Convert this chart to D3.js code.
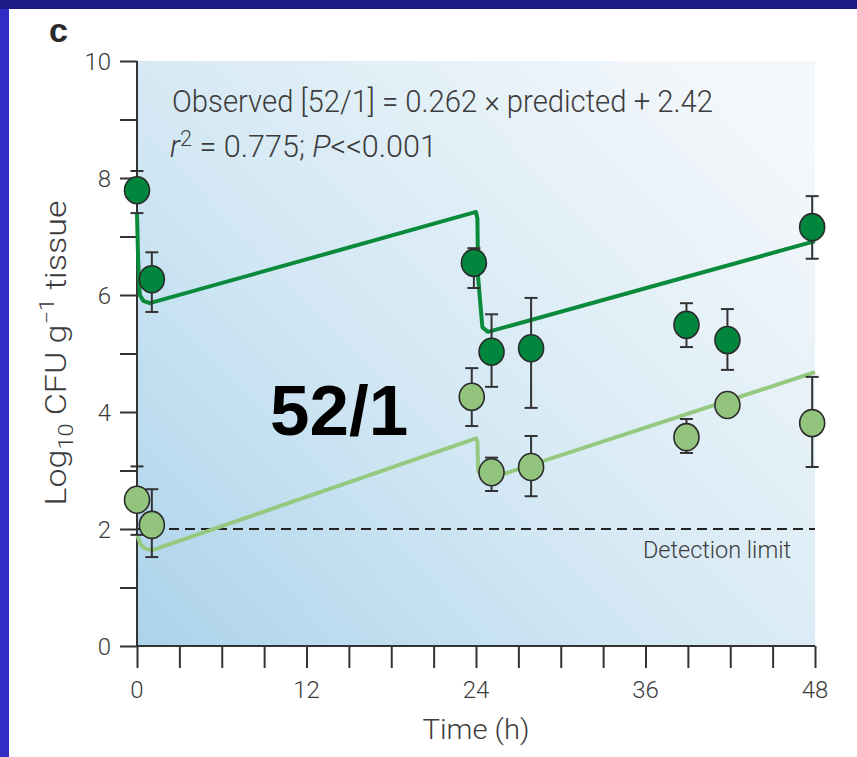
<!DOCTYPE html>
<html>
<head>
<meta charset="utf-8">
<script src="https://cdn.jsdelivr.net/npm/d3@7"></script>
<style>
  html, body { margin: 0; padding: 0; background: #ffffff; }
  svg { display: block; }
  .lbl { font-family: "Liberation Sans Narrow", "Arial Narrow", "Roboto", sans-serif; font-weight: 300; fill: #3c3c3c; }
</style>
</head>
<body>
<svg id="chart" width="857" height="757"></svg>
<script>
// Axis ticks
const xTickLabels = [0, 12, 24, 36, 48];
const xTickMarks = d3.range(0, 49, 3);
const yTickLabels = [0, 2, 4, 6, 8, 10];
const yTickMarks = d3.range(0, 11, 1);

// Observed tissue counts, high-exposure series (dark green)
const darkTime = [0, 1.05, 23.85, 25.1, 27.9, 38.9, 41.8, 47.8];
const darkValue = [7.79, 6.27, 6.55, 5.03, 5.09, 5.49, 5.23, 7.16];
const darkHigh = [8.12, 6.73, 6.80, 5.67, 5.95, 5.86, 5.76, 7.69];
const darkLow = [7.40, 5.71, 6.12, 4.43, 4.07, 5.11, 4.72, 6.62];

// Observed tissue counts, low-exposure series (light green)
const lightTime = [0, 1.05, 23.7, 25.1, 27.9, 38.9, 41.8, 47.8];
const lightValue = [2.50, 2.07, 4.26, 2.97, 3.06, 3.57, 4.12, 3.81];
const lightHigh = [3.07, 2.68, 4.75, 3.22, 3.59, 3.88, 4.22, 4.60];
const lightLow = [1.90, 1.52, 3.76, 2.65, 2.56, 3.30, 4.02, 3.06];

// Model predictions (time, log10 CFU)
const darkModelTime = [0, 0.08, 0.2, 0.45, 0.9, 24.0, 24.1, 24.15, 24.45, 24.85, 48];
const darkModelValue = [7.40, 6.6, 6.0, 5.9, 5.86, 7.42, 7.30, 6.30, 5.45, 5.37, 6.92];
const lightModelTime = [0, 0.3, 0.6, 1.1, 24.0, 24.1, 24.15, 24.4, 24.8, 48];
const lightModelValue = [1.90, 1.72, 1.66, 1.64, 3.55, 3.50, 3.00, 2.88, 2.85, 4.68];

const detectionLimit = 2;

const svg = d3.select("#chart");
const W = 857, H = 757;
const plot = { left: 137, right: 815, top: 61, bottom: 646 };

// Slide frame: navy strip on top, blue strip at left
svg.append("rect").attr("x", 0).attr("y", 0).attr("width", W).attr("height", H).attr("fill", "#ffffff");
svg.append("rect").attr("x", 0).attr("y", 0).attr("width", 9).attr("height", H).attr("fill", "#2f2dc4");
svg.append("rect").attr("x", 0).attr("y", 0).attr("width", W).attr("height", 9).attr("fill", "#1d1b86");

const x = d3.scaleLinear().domain([0, 48]).range([plot.left, plot.right]);
const y = d3.scaleLinear().domain([0, 10]).range([plot.bottom, plot.top]);

// Plot background gradient
const defs = svg.append("defs");
const grad = defs.append("linearGradient").attr("id", "bg")
  .attr("x1", 0).attr("y1", 1).attr("x2", 1).attr("y2", 0.15);
grad.append("stop").attr("offset", "0%").attr("stop-color", "#acd3eb");
grad.append("stop").attr("offset", "45%").attr("stop-color", "#d3e8f4");
grad.append("stop").attr("offset", "100%").attr("stop-color", "#f5f8fb");
svg.append("rect")
  .attr("x", plot.left).attr("y", plot.top)
  .attr("width", plot.right - plot.left).attr("height", plot.bottom - plot.top)
  .attr("fill", "url(#bg)");

// Axes
const yAxis = d3.axisLeft(y).tickValues(yTickMarks).tickSize(17).tickFormat("");
const xAxis = d3.axisBottom(x).tickValues(xTickMarks).tickSize(22).tickFormat("");
const gy = svg.append("g").attr("transform", `translate(${plot.left},0)`).call(yAxis);
const gx = svg.append("g").attr("transform", `translate(0,${plot.bottom})`).call(xAxis);
[gy, gx].forEach(g => {
  g.select(".domain").attr("stroke", "#333").attr("stroke-width", 2);
  g.selectAll(".tick line").attr("stroke", "#333").attr("stroke-width", 2);
});
gy.select(".domain").attr("d", `M0,${plot.top}V${plot.bottom}`);
gx.select(".domain").attr("d", `M${plot.left},0H${plot.right}`);

svg.append("g").selectAll("text").data(yTickLabels).join("text")
  .attr("class", "lbl")
  .attr("x", 111).attr("y", d => y(d)).attr("dy", "0.36em")
  .attr("text-anchor", "end").attr("font-size", 24)
  .text(d => d);
svg.append("g").selectAll("text").data(xTickLabels).join("text")
  .attr("class", "lbl")
  .attr("x", d => x(d)).attr("y", 698)
  .attr("text-anchor", "middle").attr("font-size", 24)
  .text(d => d);

// Axis titles
svg.append("text").attr("class", "lbl")
  .attr("x", 476).attr("y", 739).attr("text-anchor", "middle")
  .attr("font-size", 28).attr("textLength", 107).attr("lengthAdjust", "spacingAndGlyphs")
  .text("Time (h)");

const yt = svg.append("text").attr("class", "lbl")
  .attr("transform", `translate(66,353) rotate(-90)`)
  .attr("text-anchor", "middle").attr("font-size", 29)
  .attr("textLength", 305).attr("lengthAdjust", "spacingAndGlyphs");
yt.append("tspan").text("Log");
yt.append("tspan").attr("font-size", 20).attr("dy", 7).text("10");
yt.append("tspan").attr("dy", -7).text(" CFU g");
yt.append("tspan").attr("font-size", 20).attr("dy", -12).text("\u22121");
yt.append("tspan").attr("dy", 12).text(" tissue");

// Panel letter
svg.append("text").attr("x", 49).attr("y", 42)
  .attr("font-family", "Liberation Sans, Arial, sans-serif")
  .attr("font-weight", "bold").attr("font-size", 34).attr("fill", "#2a2a2a").text("c");

// Regression annotation
svg.append("text").attr("class", "lbl")
  .attr("x", 172).attr("y", 112).attr("font-size", 31)
  .attr("textLength", 541).attr("lengthAdjust", "spacingAndGlyphs")
  .text("Observed [52/1] = 0.262 \u00d7 predicted + 2.42");
const r2 = svg.append("text").attr("class", "lbl")
  .attr("x", 170).attr("y", 157).attr("font-size", 31)
  .attr("textLength", 267).attr("lengthAdjust", "spacingAndGlyphs");
r2.append("tspan").attr("font-style", "italic").text("r");
r2.append("tspan").attr("font-size", 22).attr("dy", -11).text("2");
r2.append("tspan").attr("dy", 11).text(" = 0.775; ");
r2.append("tspan").attr("font-style", "italic").text("P");
r2.append("tspan").text("<<0.001");

// Detection limit
svg.append("line")
  .attr("x1", x(0)).attr("x2", x(48))
  .attr("y1", y(detectionLimit)).attr("y2", y(detectionLimit))
  .attr("stroke", "#222").attr("stroke-width", 2).attr("stroke-dasharray", "10,6");
svg.append("text").attr("class", "lbl")
  .attr("x", 791).attr("y", 558).attr("text-anchor", "end")
  .attr("font-size", 24).attr("textLength", 148).attr("lengthAdjust", "spacingAndGlyphs")
  .text("Detection limit");

// Model curves
const line = d3.line().x(d => x(d[0])).y(d => y(d[1]));
const lightModel = lightModelTime.map((t, i) => [t, lightModelValue[i]]);
const darkModel = darkModelTime.map((t, i) => [t, darkModelValue[i]]);
svg.append("path").datum(lightModel).attr("d", line)
  .attr("fill", "none").attr("stroke", "#94c97f").attr("stroke-width", 4).attr("stroke-linejoin", "round");
svg.append("path").datum(darkModel).attr("d", line)
  .attr("fill", "none").attr("stroke", "#0a8b3b").attr("stroke-width", 4).attr("stroke-linejoin", "round");

// Observed points with error bars
function drawSeries(times, values, lows, highs, fill) {
  const data = times.map((t, i) => ({ t, v: values[i], lo: lows[i], hi: highs[i] }));
  const g = svg.append("g");
  const eb = g.selectAll("g.eb").data(data).join("g").attr("class", "eb");
  eb.append("line")
    .attr("x1", d => x(d.t)).attr("x2", d => x(d.t))
    .attr("y1", d => y(d.lo)).attr("y2", d => y(d.hi))
    .attr("stroke", "#333").attr("stroke-width", 2);
  ["lo", "hi"].forEach(k => {
    eb.append("line")
      .attr("x1", d => x(d.t) - 6.5).attr("x2", d => x(d.t) + 6.5)
      .attr("y1", d => y(d[k])).attr("y2", d => y(d[k]))
      .attr("stroke", "#333").attr("stroke-width", 2);
  });
  g.selectAll("ellipse").data(data).join("ellipse")
    .attr("cx", d => x(d.t)).attr("cy", d => y(d.v))
    .attr("rx", 12.5).attr("ry", 13.5)
    .attr("fill", fill).attr("stroke", "#2a2a2a").attr("stroke-width", 1.6);
}
drawSeries(lightTime, lightValue, lightLow, lightHigh, "#93c47e");
drawSeries(darkTime, darkValue, darkLow, darkHigh, "#00873d");

// Regimen label
svg.append("text").attr("x", 270).attr("y", 435)
  .attr("font-family", "Liberation Sans, Arial, sans-serif")
  .attr("font-weight", "bold").attr("font-size", 71).attr("fill", "#000")
  .text("52/1");
</script>
</body>
</html>
